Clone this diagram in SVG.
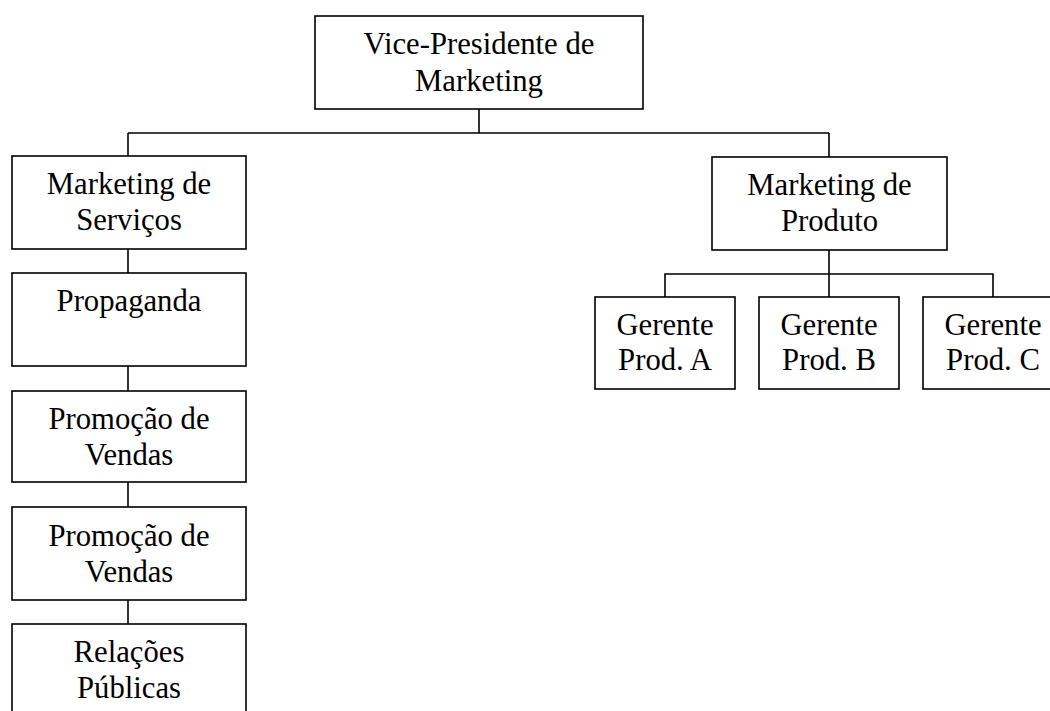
<svg xmlns="http://www.w3.org/2000/svg" width="1050" height="711" viewBox="0 0 1050 711">
<style>
rect.box{fill:#fff;stroke:#000;stroke-width:1.6}
.conn path{fill:none;stroke:#000;stroke-width:1.6}
text{font-family:"Liberation Serif","Times New Roman",serif;font-size:30.7px;fill:#000;text-anchor:middle}
</style>
<rect width="1050" height="711" fill="#fff"/>
<g class="conn" id="connectors">
<path d="M479,109 V133 M128,133 H829 M128,133 V156 M829,133 V157"/>
<path d="M128,249 V273 M128,366 V391 M128,482 V507 M128,600 V624"/>
<path d="M829,250 V297 M665,297 V274 H993 V297"/>
</g>
<g id="vp"><rect class="box" x="315" y="16" width="328" height="93"/><text x="479" y="54">Vice-Presidente de</text><text x="479" y="91">Marketing</text></g>
<g id="mserv"><rect class="box" x="12" y="156" width="234" height="93"/><text x="129" y="194">Marketing de</text><text x="129" y="230">Serviços</text></g>
<g id="prop"><rect class="box" x="12" y="273" width="234" height="93"/><text x="129" y="311">Propaganda</text></g>
<g id="promo1"><rect class="box" x="12" y="391" width="234" height="91"/><text x="129" y="429">Promoção de</text><text x="129" y="465">Vendas</text></g>
<g id="promo2"><rect class="box" x="12" y="507" width="234" height="93"/><text x="129" y="546">Promoção de</text><text x="129" y="582">Vendas</text></g>
<g id="rp"><rect class="box" x="12" y="624" width="234" height="100"/><text x="129" y="662">Relações</text><text x="129" y="698">Públicas</text></g>
<g id="mprod"><rect class="box" x="712" y="157" width="235" height="93"/><text x="829.5" y="195">Marketing de</text><text x="829.5" y="231">Produto</text></g>
<g id="ga"><rect class="box" x="595" y="297" width="140" height="92"/><text x="665" y="335">Gerente</text><text x="665" y="370">Prod. A</text></g>
<g id="gb"><rect class="box" x="759" y="297" width="140" height="92"/><text x="829" y="335">Gerente</text><text x="829" y="370">Prod. B</text></g>
<g id="gc"><rect class="box" x="923" y="297" width="140" height="92"/><text x="993" y="335">Gerente</text><text x="993" y="370">Prod. C</text></g>
</svg>
